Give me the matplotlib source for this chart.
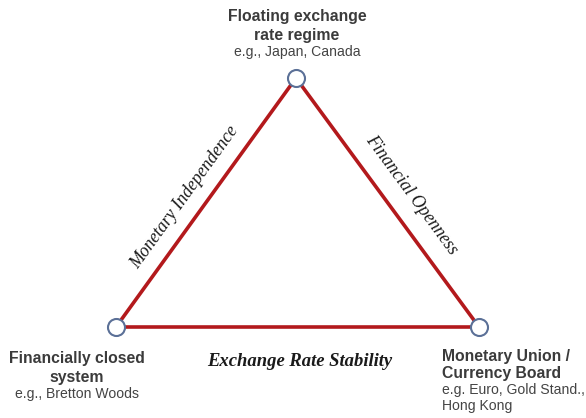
import matplotlib
matplotlib.use("Agg")
import matplotlib.pyplot as plt
import numpy as np

# Triangle vertices (pixel space of the diagram)
vertex_names = ["Floating", "Closed", "Union"]
vertex_x = [296, 116, 479]
vertex_y = [78, 327, 327]

# Edge labels
edge_labels = ["Monetary Independence", "Financial Openness", "Exchange Rate Stability"]

# Vertex titles and examples (one entry per line)
top_title = ["Floating exchange", "rate regime"]
top_example = ["e.g., Japan, Canada"]
left_title = ["Financially closed", "system"]
left_example = ["e.g., Bretton Woods"]
right_title = ["Monetary Union /", "Currency Board"]
right_example = ["e.g. Euro, Gold Stand.,", "Hong Kong"]

W, H = 586, 418
fig = plt.figure(figsize=(W / 100, H / 100), dpi=100)
ax = fig.add_axes([0, 0, 1, 1])
ax.set_xlim(0, W)
ax.set_ylim(H, 0)
ax.axis("off")

red = "#b3191c"
xs = vertex_x + [vertex_x[0]]
ys = vertex_y + [vertex_y[0]]
ax.plot(xs, ys, color=red, lw=2.6, solid_capstyle="round", zorder=2)
ax.scatter(vertex_x, vertex_y, s=150, facecolor="white", edgecolor="#5b7097", linewidths=1.5, zorder=3)

tcol = "#3b3b3b"
sans = "Liberation Sans"
TS, ES = 11.3, 10.1


def block(x, ha, titles, title_bases, examples, ex_bases):
    for t, b in zip(titles, title_bases):
        ax.text(x, b, t, ha=ha, va="baseline", fontsize=TS, fontweight="bold",
                family=sans, color=tcol)
    for t, b in zip(examples, ex_bases):
        ax.text(x, b, t, ha=ha, va="baseline", fontsize=ES, family=sans, color="#444444")


block(297, "center", top_title, [21, 40], top_example, [56])
block(77, "center", left_title, [363, 382], left_example, [398])
block(442, "left", right_title, [361, 378], right_example, [394, 410])

# Edge labels
serif = "Liberation Serif"
ang_left = np.degrees(np.arctan2(vertex_y[1] - vertex_y[0], vertex_x[0] - vertex_x[1]))
ang_right = -np.degrees(np.arctan2(vertex_y[2] - vertex_y[0], vertex_x[2] - vertex_x[0]))
ax.text(185, 197, edge_labels[0], ha="center", va="center", rotation=ang_left,
        rotation_mode="anchor", fontsize=12.8, style="italic", family=serif, color="#1a1a1a")
ax.text(412, 195, edge_labels[1], ha="center", va="center", rotation=ang_right,
        rotation_mode="anchor", fontsize=12.9, style="italic", family=serif, color="#1a1a1a")
ax.text(300, 361, edge_labels[2], ha="center", va="center", fontsize=13.4, style="italic",
        fontweight="bold", family=serif, color="#1a1a1a")

fig.savefig("out.png", dpi=100, facecolor="white")
